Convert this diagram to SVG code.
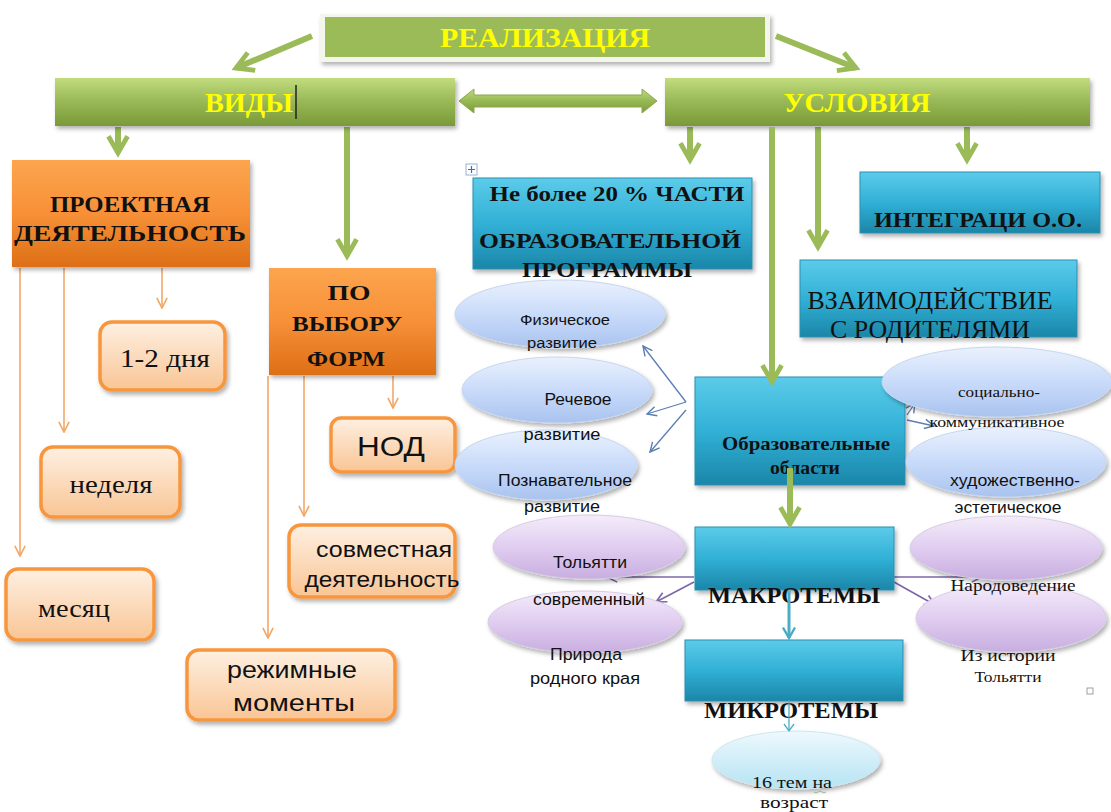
<svg xmlns="http://www.w3.org/2000/svg" width="1111" height="812" viewBox="0 0 1111 812">
<defs>
<style>
.yel{font-weight:bold;fill:#ffff00;text-anchor:middle}
.bk{font-weight:bold;fill:#111;text-anchor:middle}
.sr{fill:#111;text-anchor:middle}
.ss{fill:#111;text-anchor:middle}
.garr{stroke:#9bbb59;stroke-width:6;fill:none}
.oarr{stroke:#f0a868;stroke-width:1.6;fill:none}
.barr{stroke:#5a7fb0;stroke-width:1.3;fill:none}
.parr{stroke:#7d66a8;stroke-width:1.6;fill:none}
.tarr{stroke:#4bacc6;stroke-width:3;fill:none}
.gbox{fill:url(#gG);filter:url(#sh)}
.obox{fill:url(#gO);filter:url(#sh)}
.lbox{fill:url(#gL);stroke:#f7963d;stroke-width:3.5;filter:url(#sh)}
.bbox{fill:url(#gB);stroke:#2a8fb0;stroke-width:1;filter:url(#sh)}
.bell{fill:url(#gE);stroke:#c6d6ee;stroke-width:1;filter:url(#sh)}
.pell{fill:url(#gP);stroke:#d6cce4;stroke-width:1;filter:url(#sh)}
.cell{fill:url(#gC);stroke:#cfe6ef;stroke-width:1;filter:url(#sh)}
</style>
<filter id="sh" x="-10%" y="-10%" width="125%" height="135%"><feDropShadow dx="2" dy="3" stdDeviation="2" flood-color="#000" flood-opacity="0.3"/></filter>
<linearGradient id="gG" x1="0" y1="0" x2="0" y2="1"><stop offset="0" stop-color="#c2dc7e"/><stop offset="0.45" stop-color="#9bbb59"/><stop offset="1" stop-color="#7a9a38"/></linearGradient>
<linearGradient id="gO" x1="0" y1="0" x2="0" y2="1"><stop offset="0" stop-color="#fca54e"/><stop offset="0.5" stop-color="#f79037"/><stop offset="1" stop-color="#dd6f16"/></linearGradient>
<linearGradient id="gL" x1="0" y1="0" x2="0" y2="1"><stop offset="0" stop-color="#fef0e2"/><stop offset="1" stop-color="#f9c595"/></linearGradient>
<linearGradient id="gB" x1="0" y1="0" x2="0" y2="1"><stop offset="0" stop-color="#5ccbe9"/><stop offset="0.5" stop-color="#31b0d6"/><stop offset="1" stop-color="#1b86a8"/></linearGradient>
<linearGradient id="gE" x1="0" y1="0" x2="0" y2="1"><stop offset="0" stop-color="#eaf1fd"/><stop offset="0.5" stop-color="#c9dbfa"/><stop offset="1" stop-color="#a9c3ef"/></linearGradient>
<linearGradient id="gP" x1="0" y1="0" x2="0" y2="1"><stop offset="0" stop-color="#f4ecfa"/><stop offset="0.5" stop-color="#e0cdf0"/><stop offset="1" stop-color="#c8aee0"/></linearGradient>
<linearGradient id="gC" x1="0" y1="0" x2="0" y2="1"><stop offset="0" stop-color="#eef9fd"/><stop offset="1" stop-color="#b5e3f3"/></linearGradient>
<marker id="mg" viewBox="0 0 10 10" refX="8" refY="5" markerWidth="4" markerHeight="4" orient="auto" markerUnits="strokeWidth"><path d="M1,1 L8,5 L1,9" fill="none" stroke="#9bbb59" stroke-width="2"/></marker>
<marker id="mo" viewBox="0 0 10 10" refX="9" refY="5" markerWidth="8" markerHeight="8" orient="auto" markerUnits="strokeWidth"><path d="M1,1 L9,5 L1,9" fill="none" stroke="#f0a868" stroke-width="1.3"/></marker>
<marker id="mb" viewBox="0 0 10 10" refX="9" refY="5" markerWidth="9" markerHeight="9" orient="auto" markerUnits="strokeWidth"><path d="M1,1 L9,5 L1,9" fill="none" stroke="#5a7fb0" stroke-width="1.2"/></marker>
<marker id="mp" viewBox="0 0 10 10" refX="9" refY="5" markerWidth="8" markerHeight="8" orient="auto" markerUnits="strokeWidth"><path d="M1,1 L9,5 L1,9" fill="none" stroke="#7d66a8" stroke-width="1.3"/></marker>
<marker id="mt" viewBox="0 0 10 10" refX="8" refY="5" markerWidth="5" markerHeight="5" orient="auto" markerUnits="strokeWidth"><path d="M1,1 L8,5 L1,9" fill="none" stroke="#4bacc6" stroke-width="1.6"/></marker>
</defs>
<rect width="1111" height="812" fill="#ffffff"/>

<g id="connectors">
<line class="garr" x1="312" y1="36" x2="236" y2="68" marker-end="url(#mg)"/>
<line class="garr" x1="776" y1="36" x2="856" y2="68" marker-end="url(#mg)"/>
<path d="M459,101 L474,89 L474,95 L642,95 L642,89 L657,101 L642,113 L642,107 L474,107 L474,113 Z" fill="url(#gG)" stroke="#8aa84a" stroke-width="1"/>
<line class="garr" x1="118" y1="127" x2="118" y2="153" marker-end="url(#mg)"/>
<line class="garr" x1="347" y1="127" x2="347" y2="256" marker-end="url(#mg)"/>
<line class="garr" x1="690" y1="127" x2="690" y2="160" marker-end="url(#mg)"/>
<line class="garr" x1="818" y1="127" x2="818" y2="247" marker-end="url(#mg)"/>
<line class="garr" x1="967" y1="127" x2="967" y2="160" marker-end="url(#mg)"/>
<line class="oarr" x1="20" y1="268" x2="20" y2="556" marker-end="url(#mo)"/>
<line class="oarr" x1="64" y1="268" x2="64" y2="432" marker-end="url(#mo)"/>
<line class="oarr" x1="162" y1="268" x2="162" y2="308" marker-end="url(#mo)"/>
<line class="oarr" x1="268" y1="376" x2="268" y2="638" marker-end="url(#mo)"/>
<line class="oarr" x1="304" y1="376" x2="304" y2="516" marker-end="url(#mo)"/>
<line class="oarr" x1="393" y1="376" x2="393" y2="408" marker-end="url(#mo)"/>
<line class="barr" x1="686" y1="402" x2="643" y2="346" marker-end="url(#mb)"/>
<line class="barr" x1="686" y1="402" x2="647" y2="414" marker-end="url(#mb)"/>
<line class="barr" x1="686" y1="410" x2="650" y2="452" marker-end="url(#mb)"/>
<line class="barr" x1="907" y1="415" x2="915" y2="403" marker-end="url(#mb)"/>
<line class="barr" x1="907" y1="420" x2="934" y2="426" marker-end="url(#mb)"/>
<line class="parr" x1="694" y1="577" x2="607" y2="577" marker-end="url(#mp)"/>
<line class="parr" x1="694" y1="582" x2="656" y2="602" marker-end="url(#mp)"/>
<line class="parr" x1="894" y1="577" x2="982" y2="577" marker-end="url(#mp)"/>
<line class="parr" x1="894" y1="582" x2="935" y2="605" marker-end="url(#mp)"/>
</g>

<g id="realizatsiya">
<rect x="320" y="14" width="450" height="48" fill="#f4f6ee" filter="url(#sh)"/>
<rect x="325" y="17" width="440" height="40" fill="#9bbb59"/>
<text class="yel" font-family="Liberation Serif, serif" x="545" y="47" font-size="28" textLength="210" lengthAdjust="spacingAndGlyphs">РЕАЛИЗАЦИЯ</text>
</g>

<g id="vidy">
<rect class="gbox" x="55" y="78" width="400" height="48"/>
<text class="yel" font-family="Liberation Serif, serif" x="249" y="112" font-size="28" textLength="88" lengthAdjust="spacingAndGlyphs">ВИДЫ</text>
<line x1="296" y1="85" x2="296" y2="119" stroke="#222" stroke-width="1.5"/>
</g>

<g id="usloviya">
<rect class="gbox" x="665" y="78" width="425" height="48"/>
<text class="yel" font-family="Liberation Serif, serif" x="857" y="112" font-size="28" textLength="147" lengthAdjust="spacingAndGlyphs">УСЛОВИЯ</text>
</g>

<g id="proektnaya">
<rect class="obox" x="12" y="160" width="238" height="107"/>
<text class="bk" font-family="Liberation Serif, serif" x="130" y="212" font-size="23" textLength="160" lengthAdjust="spacingAndGlyphs">ПРОЕКТНАЯ</text>
<text class="bk" font-family="Liberation Serif, serif" x="130" y="241" font-size="23" textLength="232" lengthAdjust="spacingAndGlyphs">ДЕЯТЕЛЬНОСТЬ</text>
</g>

<g id="po-vyboru">
<rect class="obox" x="269" y="268" width="167" height="107"/>
<text class="bk" font-family="Liberation Serif, serif" x="349" y="300" font-size="22" textLength="43" lengthAdjust="spacingAndGlyphs">ПО</text>
<text class="bk" font-family="Liberation Serif, serif" x="347" y="331" font-size="22" textLength="110" lengthAdjust="spacingAndGlyphs">ВЫБОРУ</text>
<text class="bk" font-family="Liberation Serif, serif" x="346" y="366" font-size="22" textLength="78" lengthAdjust="spacingAndGlyphs">ФОРМ</text>
</g>

<g id="dni">
<rect class="lbox" x="100" y="322" width="125" height="68" rx="12"/>
<text class="sr" font-family="Liberation Serif, serif" x="165" y="367" font-size="26" textLength="90" lengthAdjust="spacingAndGlyphs">1-2 дня</text>
</g>

<g id="nedelya">
<rect class="lbox" x="41" y="447" width="139" height="70" rx="12"/>
<text class="sr" font-family="Liberation Serif, serif" x="111" y="493" font-size="25" textLength="83" lengthAdjust="spacingAndGlyphs">неделя</text>
</g>

<g id="mesyats">
<rect class="lbox" x="6" y="569" width="148" height="71" rx="12"/>
<text class="sr" font-family="Liberation Serif, serif" x="74" y="617" font-size="25" textLength="72" lengthAdjust="spacingAndGlyphs">месяц</text>
</g>

<g id="nod">
<rect class="lbox" x="331" y="418" width="124" height="54" rx="10"/>
<text class="ss" font-family="Liberation Sans, sans-serif" x="391" y="456" font-size="28" textLength="68" lengthAdjust="spacingAndGlyphs">НОД</text>
</g>

<g id="sovmestnaya">
<rect class="lbox" x="289" y="525" width="166" height="72" rx="12"/>
<text class="ss" font-family="Liberation Sans, sans-serif" x="384" y="557" font-size="22" textLength="136" lengthAdjust="spacingAndGlyphs">совместная</text>
<text class="ss" font-family="Liberation Sans, sans-serif" x="382" y="587" font-size="22" textLength="155" lengthAdjust="spacingAndGlyphs">деятельность</text>
</g>

<g id="rezhimnye">
<rect class="lbox" x="187" y="650" width="208" height="70" rx="12"/>
<text class="ss" font-family="Liberation Sans, sans-serif" x="292" y="678" font-size="23" textLength="130" lengthAdjust="spacingAndGlyphs">режимные</text>
<text class="ss" font-family="Liberation Sans, sans-serif" x="294" y="711" font-size="23" textLength="122" lengthAdjust="spacingAndGlyphs">моменты</text>
</g>

<g id="ne-bolee">
<rect x="466" y="164" width="11" height="11" fill="#fff" stroke="#9ab0d0" stroke-width="1"/>
<path d="M471.5,166 L471.5,173 M468,169.5 L475,169.5" stroke="#3a6fc0" stroke-width="1.2"/>
<rect class="bbox" x="473" y="178" width="279" height="91"/>
<text class="bk" font-family="Liberation Serif, serif" x="617" y="201" font-size="22" textLength="255" lengthAdjust="spacingAndGlyphs">Не более 20 % ЧАСТИ</text>
<text class="bk" font-family="Liberation Serif, serif" x="610" y="248" font-size="22" textLength="262" lengthAdjust="spacingAndGlyphs">ОБРАЗОВАТЕЛЬНОЙ</text>
<text class="bk" font-family="Liberation Serif, serif" x="607" y="277" font-size="22" textLength="170" lengthAdjust="spacingAndGlyphs">ПРОГРАММЫ</text>
</g>

<g id="integratsiya">
<rect class="bbox" x="860" y="172" width="240" height="61"/>
<text class="bk" font-family="Liberation Serif, serif" x="978" y="227" font-size="21" textLength="208" lengthAdjust="spacingAndGlyphs">ИНТЕГРАЦИ  О.О.</text>
</g>

<g id="vzaimodeystvie">
<rect class="bbox" x="800" y="260" width="277" height="77"/>
<text class="sr" font-family="Liberation Serif, serif" x="930" y="309" font-size="25" textLength="245" lengthAdjust="spacingAndGlyphs">ВЗАИМОДЕЙСТВИЕ</text>
<text class="sr" font-family="Liberation Serif, serif" x="930" y="338" font-size="25" textLength="200" lengthAdjust="spacingAndGlyphs">С РОДИТЕЛЯМИ</text>
</g>

<g id="poznavatelnoe">
<ellipse class="bell" cx="546" cy="465" rx="91" ry="35"/>
<text class="ss" font-family="Liberation Sans, sans-serif" x="565" y="486" font-size="16" textLength="134" lengthAdjust="spacingAndGlyphs">Познавательное</text>
<text class="ss" font-family="Liberation Sans, sans-serif" x="562" y="512" font-size="16" textLength="76" lengthAdjust="spacingAndGlyphs">развитие</text>
</g>

<g id="rechevoe">
<ellipse class="bell" cx="557" cy="390" rx="95" ry="33"/>
<text class="ss" font-family="Liberation Sans, sans-serif" x="578" y="405" font-size="16" textLength="67" lengthAdjust="spacingAndGlyphs">Речевое</text>
<text class="ss" font-family="Liberation Sans, sans-serif" x="562" y="440" font-size="16" textLength="77" lengthAdjust="spacingAndGlyphs">развитие</text>
</g>

<g id="fizicheskoe">
<ellipse class="bell" cx="560" cy="314" rx="105" ry="34"/>
<text class="ss" font-family="Liberation Sans, sans-serif" x="565" y="325" font-size="14" textLength="90" lengthAdjust="spacingAndGlyphs">Физическое</text>
<text class="ss" font-family="Liberation Sans, sans-serif" x="562" y="348" font-size="14" textLength="70" lengthAdjust="spacingAndGlyphs">развитие</text>
</g>

<g id="obrazovatelnye">
<rect class="bbox" x="695" y="377" width="210" height="108"/>
<text class="bk" font-family="Liberation Serif, serif" x="806" y="450" font-size="19" textLength="168" lengthAdjust="spacingAndGlyphs">Образовательные</text>
<text class="bk" font-family="Liberation Serif, serif" x="805" y="474" font-size="19" textLength="70" lengthAdjust="spacingAndGlyphs">области</text>
</g>

<g id="khudozhestvenno">
<ellipse class="bell" cx="1006" cy="462" rx="100" ry="35"/>
<text class="ss" font-family="Liberation Sans, sans-serif" x="1015" y="486" font-size="16" textLength="130" lengthAdjust="spacingAndGlyphs">художественно-</text>
<text class="ss" font-family="Liberation Sans, sans-serif" x="1008" y="513" font-size="16" textLength="107" lengthAdjust="spacingAndGlyphs">эстетическое</text>
</g>

<g id="sotsialno">
<ellipse class="bell" cx="997" cy="382" rx="115" ry="35"/>
<text class="sr" font-family="Liberation Serif, serif" x="999" y="397" font-size="15" textLength="82" lengthAdjust="spacingAndGlyphs">социально-</text>
<text class="sr" font-family="Liberation Serif, serif" x="997" y="427" font-size="15" textLength="135" lengthAdjust="spacingAndGlyphs">коммуникативное</text>
</g>

<g id="priroda">
<ellipse class="pell" cx="585" cy="622" rx="97" ry="31"/>
<text class="ss" font-family="Liberation Sans, sans-serif" x="586" y="660" font-size="16" textLength="72" lengthAdjust="spacingAndGlyphs">Природа</text>
<text class="ss" font-family="Liberation Sans, sans-serif" x="585" y="684" font-size="16" textLength="110" lengthAdjust="spacingAndGlyphs">родного края</text>
</g>

<g id="tolyatti-sovr">
<ellipse class="pell" cx="589" cy="547" rx="96" ry="32"/>
<text class="ss" font-family="Liberation Sans, sans-serif" x="590" y="568" font-size="16" textLength="74" lengthAdjust="spacingAndGlyphs">Тольятти</text>
<text class="ss" font-family="Liberation Sans, sans-serif" x="589" y="605" font-size="16" textLength="112" lengthAdjust="spacingAndGlyphs">современный</text>
</g>

<g id="makrotemy">
<rect class="bbox" x="695" y="527" width="199" height="63"/>
<text class="bk" font-family="Liberation Serif, serif" x="794" y="603" font-size="24" textLength="172" lengthAdjust="spacingAndGlyphs">МАКРОТЕМЫ</text>
</g>

<g id="iz-istorii">
<ellipse class="pell" cx="1011" cy="618" rx="95" ry="34"/>
<text class="sr" font-family="Liberation Serif, serif" x="1008" y="661" font-size="17" textLength="95" lengthAdjust="spacingAndGlyphs">Из истории</text>
<text class="sr" font-family="Liberation Serif, serif" x="1008" y="682" font-size="15" textLength="67" lengthAdjust="spacingAndGlyphs">Тольятти</text>
</g>

<g id="narodovedenie">
<ellipse class="pell" cx="1006" cy="548" rx="96" ry="32"/>
<text class="sr" font-family="Liberation Serif, serif" x="1013" y="591" font-size="17" textLength="125" lengthAdjust="spacingAndGlyphs">Народоведение</text>
</g>

<g id="mikrotemy">
<rect class="bbox" x="685" y="640" width="218" height="61"/>
<text class="bk" font-family="Liberation Serif, serif" x="791" y="718" font-size="24" textLength="174" lengthAdjust="spacingAndGlyphs">МИКРОТЕМЫ</text>
</g>

<g id="tem16">
<ellipse class="cell" cx="796" cy="760" rx="84" ry="29"/>
<text class="sr" font-family="Liberation Serif, serif" x="792" y="788" font-size="16" textLength="80" lengthAdjust="spacingAndGlyphs">16 тем на</text>
<text class="sr" font-family="Liberation Serif, serif" x="794" y="808" font-size="16" textLength="68" lengthAdjust="spacingAndGlyphs">возраст</text>
<path d="M814,792 q2,2 4,0 q2,-2 4,0 q2,2 4,0" fill="none" stroke="#8a8" stroke-width="0.8"/>
</g>

<g id="connectors-top">
<line class="garr" x1="772" y1="127" x2="772" y2="382" marker-end="url(#mg)"/>
<line class="garr" x1="790" y1="468" x2="790" y2="524" marker-end="url(#mg)"/>
<line class="tarr" x1="789" y1="591" x2="789" y2="638" marker-end="url(#mt)"/>
<line stroke="#4bacc6" stroke-width="1.3" x1="789" y1="700" x2="789" y2="730"/>
<path d="M784,724 L789,731 L794,724" fill="none" stroke="#4bacc6" stroke-width="1.3"/>
</g>

<rect x="1087" y="688" width="6" height="6" fill="none" stroke="#888" stroke-width="0.8"/>
</svg>
